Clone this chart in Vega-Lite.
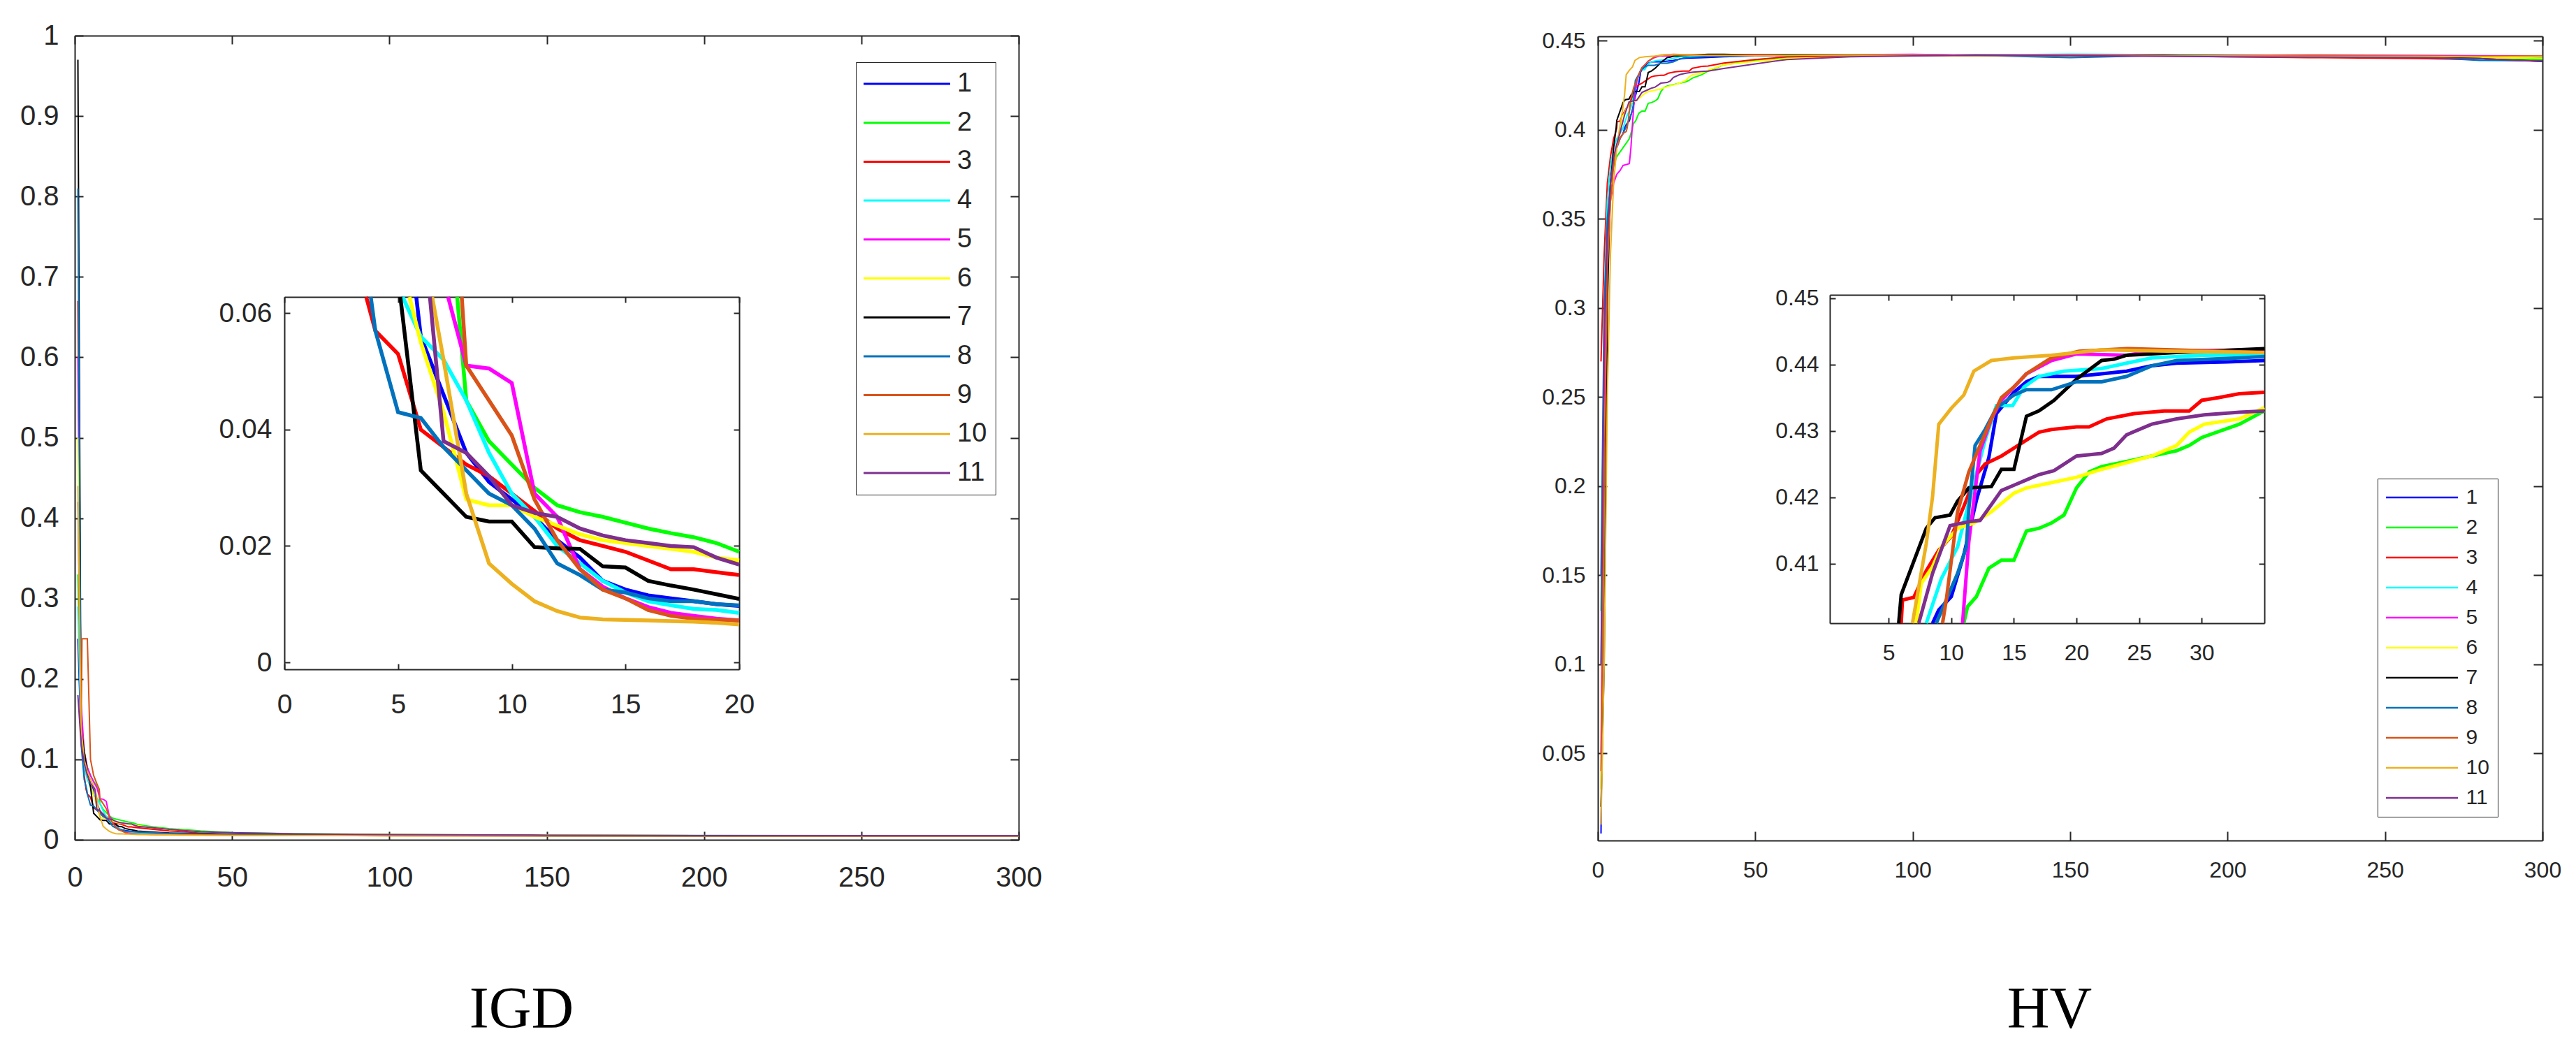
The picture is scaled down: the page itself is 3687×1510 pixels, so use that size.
{
"$schema": "https://vega.github.io/schema/vega-lite/v6.json",
"width": 3687, "height": 1510,
"autosize": {"type": "none"},
"padding": 0,
"background": "#ffffff",
"config": {
  "view": {"stroke": null},
  "axis": {"grid": false, "domainColor": "#262626", "domainWidth": 2, "tickColor": "#262626", "tickWidth": 2, "labelColor": "#262626", "labelFont": "Liberation Sans", "labelFlush": false, "labelOverlap": false, "labelBound": false}
},
"datasets": {
"igd": [
{"s":"1","x":1,"y":0.25},{"s":"1","x":2,"y":0.13},{"s":"1","x":3,"y":0.095},{"s":"1","x":4,"y":0.08},{"s":"1","x":5,"y":0.07},{"s":"1","x":5.8,"y":0.0628},{"s":"1","x":6,"y":0.056},{"s":"1","x":7,"y":0.046},{"s":"1","x":8,"y":0.036},{"s":"1","x":9,"y":0.031},{"s":"1","x":10,"y":0.028},{"s":"1","x":11,"y":0.025},{"s":"1","x":12,"y":0.021},{"s":"1","x":13,"y":0.018},{"s":"1","x":14,"y":0.014},{"s":"1","x":15,"y":0.0125},{"s":"1","x":16,"y":0.0115},{"s":"1","x":17,"y":0.011},{"s":"1","x":18,"y":0.0105},{"s":"1","x":19,"y":0.01},{"s":"1","x":20,"y":0.0097},{"s":"1","x":25,"y":0.0085},{"s":"1","x":30,"y":0.008},{"s":"1","x":40,"y":0.007},{"s":"1","x":50,"y":0.0065},{"s":"1","x":70,"y":0.006},{"s":"1","x":100,"y":0.0055},{"s":"1","x":150,"y":0.005},{"s":"1","x":200,"y":0.005},{"s":"1","x":250,"y":0.0048},{"s":"1","x":300,"y":0.0047},
{"s":"2","x":1,"y":0.33},{"s":"2","x":2,"y":0.15},{"s":"2","x":3,"y":0.11},{"s":"2","x":4,"y":0.09},{"s":"2","x":5,"y":0.08},{"s":"2","x":6,"y":0.073},{"s":"2","x":7,"y":0.067},{"s":"2","x":7.6,"y":0.0628},{"s":"2","x":8,"y":0.045},{"s":"2","x":9,"y":0.038},{"s":"2","x":10,"y":0.034},{"s":"2","x":11,"y":0.03},{"s":"2","x":12,"y":0.027},{"s":"2","x":13,"y":0.0258},{"s":"2","x":14,"y":0.025},{"s":"2","x":15,"y":0.024},{"s":"2","x":16,"y":0.023},{"s":"2","x":17,"y":0.0222},{"s":"2","x":18,"y":0.0215},{"s":"2","x":19,"y":0.0205},{"s":"2","x":20,"y":0.019},{"s":"2","x":25,"y":0.016},{"s":"2","x":30,"y":0.014},{"s":"2","x":40,"y":0.011},{"s":"2","x":50,"y":0.009},{"s":"2","x":70,"y":0.0075},{"s":"2","x":100,"y":0.0065},{"s":"2","x":150,"y":0.0058},{"s":"2","x":200,"y":0.0054},{"s":"2","x":250,"y":0.0052},{"s":"2","x":300,"y":0.005},
{"s":"3","x":1,"y":0.67},{"s":"3","x":2,"y":0.16},{"s":"3","x":3,"y":0.08},{"s":"3","x":3.6,"y":0.0628},{"s":"3","x":4,"y":0.057},{"s":"3","x":5,"y":0.053},{"s":"3","x":6,"y":0.04},{"s":"3","x":7,"y":0.037},{"s":"3","x":8,"y":0.034},{"s":"3","x":9,"y":0.032},{"s":"3","x":10,"y":0.029},{"s":"3","x":11,"y":0.026},{"s":"3","x":12,"y":0.023},{"s":"3","x":13,"y":0.021},{"s":"3","x":14,"y":0.02},{"s":"3","x":15,"y":0.019},{"s":"3","x":16,"y":0.0175},{"s":"3","x":17,"y":0.016},{"s":"3","x":18,"y":0.016},{"s":"3","x":19,"y":0.0155},{"s":"3","x":20,"y":0.015},{"s":"3","x":25,"y":0.013},{"s":"3","x":30,"y":0.011},{"s":"3","x":40,"y":0.009},{"s":"3","x":50,"y":0.008},{"s":"3","x":70,"y":0.007},{"s":"3","x":100,"y":0.006},{"s":"3","x":150,"y":0.0055},{"s":"3","x":200,"y":0.0052},{"s":"3","x":250,"y":0.005},{"s":"3","x":300,"y":0.0049},
{"s":"4","x":1,"y":0.29},{"s":"4","x":2,"y":0.13},{"s":"4","x":3,"y":0.09},{"s":"4","x":4,"y":0.075},{"s":"4","x":5,"y":0.066},{"s":"4","x":5.2,"y":0.0628},{"s":"4","x":6,"y":0.056},{"s":"4","x":7,"y":0.052},{"s":"4","x":8,"y":0.045},{"s":"4","x":9,"y":0.036},{"s":"4","x":10,"y":0.029},{"s":"4","x":11,"y":0.025},{"s":"4","x":12,"y":0.02},{"s":"4","x":13,"y":0.017},{"s":"4","x":14,"y":0.014},{"s":"4","x":15,"y":0.012},{"s":"4","x":16,"y":0.0105},{"s":"4","x":17,"y":0.0098},{"s":"4","x":18,"y":0.0092},{"s":"4","x":19,"y":0.009},{"s":"4","x":20,"y":0.0085},{"s":"4","x":25,"y":0.008},{"s":"4","x":30,"y":0.0075},{"s":"4","x":40,"y":0.007},{"s":"4","x":50,"y":0.0065},{"s":"4","x":70,"y":0.006},{"s":"4","x":100,"y":0.0055},{"s":"4","x":150,"y":0.005},{"s":"4","x":200,"y":0.0048},{"s":"4","x":250,"y":0.0047},{"s":"4","x":300,"y":0.0046},
{"s":"5","x":1,"y":0.6},{"s":"5","x":2,"y":0.17},{"s":"5","x":3,"y":0.11},{"s":"5","x":4,"y":0.09},{"s":"5","x":5,"y":0.08},{"s":"5","x":6,"y":0.072},{"s":"5","x":7,"y":0.065},{"s":"5","x":7.2,"y":0.0628},{"s":"5","x":8,"y":0.051},{"s":"5","x":9,"y":0.0505},{"s":"5","x":10,"y":0.048},{"s":"5","x":11,"y":0.029},{"s":"5","x":12,"y":0.025},{"s":"5","x":13,"y":0.016},{"s":"5","x":14,"y":0.013},{"s":"5","x":15,"y":0.011},{"s":"5","x":16,"y":0.0095},{"s":"5","x":17,"y":0.0085},{"s":"5","x":18,"y":0.008},{"s":"5","x":19,"y":0.0075},{"s":"5","x":20,"y":0.0072},{"s":"5","x":25,"y":0.0068},{"s":"5","x":30,"y":0.0065},{"s":"5","x":40,"y":0.006},{"s":"5","x":50,"y":0.0058},{"s":"5","x":70,"y":0.0055},{"s":"5","x":100,"y":0.0052},{"s":"5","x":150,"y":0.005},{"s":"5","x":200,"y":0.0048},{"s":"5","x":250,"y":0.0047},{"s":"5","x":300,"y":0.0046},
{"s":"6","x":1,"y":0.5},{"s":"6","x":2,"y":0.14},{"s":"6","x":3,"y":0.1},{"s":"6","x":4,"y":0.08},{"s":"6","x":5,"y":0.068},{"s":"6","x":5.5,"y":0.0628},{"s":"6","x":6,"y":0.055},{"s":"6","x":7,"y":0.043},{"s":"6","x":8,"y":0.028},{"s":"6","x":9,"y":0.027},{"s":"6","x":10,"y":0.027},{"s":"6","x":11,"y":0.025},{"s":"6","x":12,"y":0.0235},{"s":"6","x":13,"y":0.022},{"s":"6","x":14,"y":0.021},{"s":"6","x":15,"y":0.0205},{"s":"6","x":16,"y":0.02},{"s":"6","x":17,"y":0.0195},{"s":"6","x":18,"y":0.019},{"s":"6","x":19,"y":0.018},{"s":"6","x":20,"y":0.0175},{"s":"6","x":25,"y":0.015},{"s":"6","x":30,"y":0.013},{"s":"6","x":40,"y":0.01},{"s":"6","x":50,"y":0.0085},{"s":"6","x":70,"y":0.007},{"s":"6","x":100,"y":0.0062},{"s":"6","x":150,"y":0.0056},{"s":"6","x":200,"y":0.0053},{"s":"6","x":250,"y":0.0051},{"s":"6","x":300,"y":0.005},
{"s":"7","x":1,"y":0.97},{"s":"7","x":2,"y":0.14},{"s":"7","x":3,"y":0.11},{"s":"7","x":4,"y":0.085},{"s":"7","x":5,"y":0.066},{"s":"7","x":5.1,"y":0.0628},{"s":"7","x":6,"y":0.033},{"s":"7","x":7,"y":0.029},{"s":"7","x":8,"y":0.025},{"s":"7","x":9,"y":0.0242},{"s":"7","x":10,"y":0.0242},{"s":"7","x":11,"y":0.0198},{"s":"7","x":12,"y":0.0196},{"s":"7","x":13,"y":0.0195},{"s":"7","x":14,"y":0.0165},{"s":"7","x":15,"y":0.0163},{"s":"7","x":16,"y":0.014},{"s":"7","x":17,"y":0.0132},{"s":"7","x":18,"y":0.0125},{"s":"7","x":19,"y":0.0117},{"s":"7","x":20,"y":0.0109},{"s":"7","x":25,"y":0.0095},{"s":"7","x":30,"y":0.0085},{"s":"7","x":40,"y":0.0075},{"s":"7","x":50,"y":0.007},{"s":"7","x":70,"y":0.0063},{"s":"7","x":100,"y":0.0058},{"s":"7","x":150,"y":0.0053},{"s":"7","x":200,"y":0.005},{"s":"7","x":250,"y":0.0049},{"s":"7","x":300,"y":0.0048},
{"s":"8","x":1,"y":0.81},{"s":"8","x":2,"y":0.12},{"s":"8","x":3,"y":0.075},{"s":"8","x":3.8,"y":0.0628},{"s":"8","x":4,"y":0.057},{"s":"8","x":5,"y":0.043},{"s":"8","x":6,"y":0.042},{"s":"8","x":7,"y":0.037},{"s":"8","x":8,"y":0.033},{"s":"8","x":9,"y":0.029},{"s":"8","x":10,"y":0.027},{"s":"8","x":11,"y":0.023},{"s":"8","x":12,"y":0.017},{"s":"8","x":13,"y":0.015},{"s":"8","x":14,"y":0.0125},{"s":"8","x":15,"y":0.012},{"s":"8","x":16,"y":0.011},{"s":"8","x":17,"y":0.0105},{"s":"8","x":18,"y":0.0105},{"s":"8","x":19,"y":0.01},{"s":"8","x":20,"y":0.0098},{"s":"8","x":25,"y":0.0088},{"s":"8","x":30,"y":0.008},{"s":"8","x":40,"y":0.0072},{"s":"8","x":50,"y":0.0067},{"s":"8","x":70,"y":0.0062},{"s":"8","x":100,"y":0.0056},{"s":"8","x":150,"y":0.0051},{"s":"8","x":200,"y":0.0049},{"s":"8","x":250,"y":0.0048},{"s":"8","x":300,"y":0.0047},
{"s":"9","x":1,"y":0.42},{"s":"9","x":2,"y":0.13},{"s":"9","x":2.3,"y":0.25},{"s":"9","x":4,"y":0.25},{"s":"9","x":5,"y":0.1},{"s":"9","x":6,"y":0.08},{"s":"9","x":7,"y":0.07},{"s":"9","x":7.8,"y":0.0628},{"s":"9","x":8,"y":0.051},{"s":"9","x":9,"y":0.045},{"s":"9","x":10,"y":0.039},{"s":"9","x":11,"y":0.028},{"s":"9","x":12,"y":0.021},{"s":"9","x":13,"y":0.016},{"s":"9","x":14,"y":0.0125},{"s":"9","x":15,"y":0.011},{"s":"9","x":16,"y":0.009},{"s":"9","x":17,"y":0.008},{"s":"9","x":18,"y":0.0075},{"s":"9","x":19,"y":0.0073},{"s":"9","x":20,"y":0.0072},{"s":"9","x":25,"y":0.0068},{"s":"9","x":30,"y":0.0065},{"s":"9","x":40,"y":0.006},{"s":"9","x":50,"y":0.0057},{"s":"9","x":70,"y":0.0054},{"s":"9","x":100,"y":0.0051},{"s":"9","x":150,"y":0.0049},{"s":"9","x":200,"y":0.0047},{"s":"9","x":250,"y":0.0046},{"s":"9","x":300,"y":0.0045},
{"s":"10","x":1,"y":0.44},{"s":"10","x":2,"y":0.14},{"s":"10","x":3,"y":0.1},{"s":"10","x":4,"y":0.085},{"s":"10","x":5,"y":0.075},{"s":"10","x":6,"y":0.067},{"s":"10","x":6.5,"y":0.0628},{"s":"10","x":7,"y":0.052},{"s":"10","x":8,"y":0.029},{"s":"10","x":9,"y":0.017},{"s":"10","x":10,"y":0.0135},{"s":"10","x":11,"y":0.0105},{"s":"10","x":12,"y":0.0088},{"s":"10","x":13,"y":0.0077},{"s":"10","x":14,"y":0.0074},{"s":"10","x":15,"y":0.0073},{"s":"10","x":16,"y":0.0072},{"s":"10","x":17,"y":0.0071},{"s":"10","x":18,"y":0.007},{"s":"10","x":19,"y":0.0068},{"s":"10","x":20,"y":0.0065},{"s":"10","x":25,"y":0.0062},{"s":"10","x":30,"y":0.006},{"s":"10","x":40,"y":0.0057},{"s":"10","x":50,"y":0.0055},{"s":"10","x":70,"y":0.0053},{"s":"10","x":100,"y":0.005},{"s":"10","x":150,"y":0.0048},{"s":"10","x":200,"y":0.0047},{"s":"10","x":250,"y":0.0046},{"s":"10","x":300,"y":0.0045},
{"s":"11","x":1,"y":0.18},{"s":"11","x":2,"y":0.12},{"s":"11","x":3,"y":0.095},{"s":"11","x":4,"y":0.08},{"s":"11","x":5,"y":0.07},{"s":"11","x":6,"y":0.065},{"s":"11","x":6.4,"y":0.0628},{"s":"11","x":7,"y":0.038},{"s":"11","x":8,"y":0.036},{"s":"11","x":9,"y":0.032},{"s":"11","x":10,"y":0.027},{"s":"11","x":11,"y":0.0257},{"s":"11","x":12,"y":0.025},{"s":"11","x":13,"y":0.023},{"s":"11","x":14,"y":0.0218},{"s":"11","x":15,"y":0.021},{"s":"11","x":16,"y":0.0205},{"s":"11","x":17,"y":0.02},{"s":"11","x":18,"y":0.0198},{"s":"11","x":19,"y":0.018},{"s":"11","x":20,"y":0.0168},{"s":"11","x":25,"y":0.015},{"s":"11","x":30,"y":0.013},{"s":"11","x":40,"y":0.01},{"s":"11","x":50,"y":0.0088},{"s":"11","x":70,"y":0.0074},{"s":"11","x":100,"y":0.0065},{"s":"11","x":150,"y":0.0057},{"s":"11","x":200,"y":0.0053},{"s":"11","x":250,"y":0.0051},{"s":"11","x":300,"y":0.005}
],
"hv": [
{"s":"1","x":1,"y":0.005},{"s":"1","x":2,"y":0.2},{"s":"1","x":3,"y":0.33},{"s":"1","x":4,"y":0.37},{"s":"1","x":5,"y":0.385},{"s":"1","x":6,"y":0.39},{"s":"1","x":7,"y":0.395},{"s":"1","x":8,"y":0.398},{"s":"1","x":8.5,"y":0.401},{"s":"1","x":9,"y":0.403},{"s":"1","x":10,"y":0.405},{"s":"1","x":11,"y":0.4113},{"s":"1","x":12,"y":0.4195},{"s":"1","x":13,"y":0.426},{"s":"1","x":13.6,"y":0.4326},{"s":"1","x":15,"y":0.4358},{"s":"1","x":16,"y":0.4374},{"s":"1","x":17,"y":0.4382},{"s":"1","x":20,"y":0.4382},{"s":"1","x":22,"y":0.4386},{"s":"1","x":24,"y":0.439},{"s":"1","x":26,"y":0.4398},{"s":"1","x":28,"y":0.4402},{"s":"1","x":32,"y":0.4404},{"s":"1","x":35,"y":0.4406},{"s":"1","x":40,"y":0.441},{"s":"1","x":50,"y":0.4415},{"s":"1","x":60,"y":0.4418},{"s":"1","x":80,"y":0.442},{"s":"1","x":100,"y":0.4422},{"s":"1","x":120,"y":0.4418},{"s":"1","x":150,"y":0.442},{"s":"1","x":180,"y":0.4417},{"s":"1","x":200,"y":0.4415},{"s":"1","x":230,"y":0.4413},{"s":"1","x":260,"y":0.441},{"s":"1","x":280,"y":0.4408},{"s":"1","x":300,"y":0.4405},
{"s":"2","x":1,"y":0.13},{"s":"2","x":2,"y":0.28},{"s":"2","x":3,"y":0.34},{"s":"2","x":4,"y":0.37},{"s":"2","x":5,"y":0.38},{"s":"2","x":6,"y":0.385},{"s":"2","x":8,"y":0.39},{"s":"2","x":10,"y":0.395},{"s":"2","x":11,"y":0.401},{"s":"2","x":11.3,"y":0.4035},{"s":"2","x":12,"y":0.405},{"s":"2","x":13,"y":0.4093},{"s":"2","x":14,"y":0.4105},{"s":"2","x":15,"y":0.4105},{"s":"2","x":16,"y":0.4149},{"s":"2","x":17,"y":0.4153},{"s":"2","x":18,"y":0.4161},{"s":"2","x":19,"y":0.4173},{"s":"2","x":20,"y":0.4214},{"s":"2","x":21,"y":0.4238},{"s":"2","x":22,"y":0.4246},{"s":"2","x":24,"y":0.4254},{"s":"2","x":26,"y":0.4262},{"s":"2","x":28,"y":0.427},{"s":"2","x":29,"y":0.4278},{"s":"2","x":30,"y":0.429},{"s":"2","x":33,"y":0.431},{"s":"2","x":35,"y":0.433},{"s":"2","x":40,"y":0.4365},{"s":"2","x":50,"y":0.439},{"s":"2","x":60,"y":0.4405},{"s":"2","x":80,"y":0.4412},{"s":"2","x":100,"y":0.4418},{"s":"2","x":120,"y":0.442},{"s":"2","x":150,"y":0.4418},{"s":"2","x":180,"y":0.4415},{"s":"2","x":200,"y":0.4412},{"s":"2","x":230,"y":0.441},{"s":"2","x":260,"y":0.4405},{"s":"2","x":280,"y":0.44},{"s":"2","x":300,"y":0.4395},
{"s":"3","x":1,"y":0.27},{"s":"3","x":2,"y":0.33},{"s":"3","x":3,"y":0.37},{"s":"3","x":4,"y":0.385},{"s":"3","x":5,"y":0.395},{"s":"3","x":6,"y":0.401},{"s":"3","x":6.1,"y":0.4045},{"s":"3","x":7,"y":0.4049},{"s":"3","x":8,"y":0.4089},{"s":"3","x":9,"y":0.412},{"s":"3","x":10,"y":0.4141},{"s":"3","x":11,"y":0.4186},{"s":"3","x":12,"y":0.4234},{"s":"3","x":12.7,"y":0.425},{"s":"3","x":14,"y":0.4262},{"s":"3","x":15,"y":0.4274},{"s":"3","x":16,"y":0.4286},{"s":"3","x":17,"y":0.4298},{"s":"3","x":18,"y":0.4302},{"s":"3","x":20,"y":0.4306},{"s":"3","x":21,"y":0.4306},{"s":"3","x":22.4,"y":0.4318},{"s":"3","x":24.6,"y":0.4326},{"s":"3","x":27,"y":0.433},{"s":"3","x":29,"y":0.433},{"s":"3","x":30,"y":0.4346},{"s":"3","x":31.3,"y":0.435},{"s":"3","x":33,"y":0.4356},{"s":"3","x":35,"y":0.4358},{"s":"3","x":40,"y":0.4375},{"s":"3","x":50,"y":0.4395},{"s":"3","x":60,"y":0.441},{"s":"3","x":80,"y":0.4415},{"s":"3","x":100,"y":0.442},{"s":"3","x":120,"y":0.4418},{"s":"3","x":150,"y":0.4416},{"s":"3","x":180,"y":0.4414},{"s":"3","x":200,"y":0.441},{"s":"3","x":230,"y":0.4405},{"s":"3","x":260,"y":0.44},{"s":"3","x":280,"y":0.4395},{"s":"3","x":300,"y":0.4385},
{"s":"4","x":1,"y":0.1},{"s":"4","x":2,"y":0.3},{"s":"4","x":3,"y":0.36},{"s":"4","x":4,"y":0.38},{"s":"4","x":5,"y":0.39},{"s":"4","x":6,"y":0.395},{"s":"4","x":7,"y":0.398},{"s":"4","x":8,"y":0.401},{"s":"4","x":9.2,"y":0.4077},{"s":"4","x":10.5,"y":0.4125},{"s":"4","x":11.6,"y":0.4206},{"s":"4","x":12.7,"y":0.4286},{"s":"4","x":13.6,"y":0.4338},{"s":"4","x":14.9,"y":0.4338},{"s":"4","x":15.8,"y":0.4366},{"s":"4","x":17,"y":0.4382},{"s":"4","x":19,"y":0.439},{"s":"4","x":22,"y":0.4394},{"s":"4","x":24,"y":0.4402},{"s":"4","x":26,"y":0.441},{"s":"4","x":30,"y":0.4414},{"s":"4","x":35,"y":0.4415},{"s":"4","x":40,"y":0.4418},{"s":"4","x":50,"y":0.442},{"s":"4","x":60,"y":0.4422},{"s":"4","x":80,"y":0.442},{"s":"4","x":100,"y":0.4418},{"s":"4","x":120,"y":0.442},{"s":"4","x":150,"y":0.4425},{"s":"4","x":180,"y":0.4422},{"s":"4","x":200,"y":0.442},{"s":"4","x":230,"y":0.4418},{"s":"4","x":260,"y":0.4414},{"s":"4","x":280,"y":0.4395},{"s":"4","x":300,"y":0.441},
{"s":"5","x":1,"y":0.05},{"s":"5","x":2,"y":0.25},{"s":"5","x":3,"y":0.33},{"s":"5","x":4,"y":0.36},{"s":"5","x":5,"y":0.37},{"s":"5","x":6,"y":0.375},{"s":"5","x":7,"y":0.377},{"s":"5","x":8,"y":0.38},{"s":"5","x":10,"y":0.381},{"s":"5","x":10.5,"y":0.39},{"s":"5","x":10.9,"y":0.401},{"s":"5","x":11.4,"y":0.4133},{"s":"5","x":12.3,"y":0.427},{"s":"5","x":13.2,"y":0.4318},{"s":"5","x":14,"y":0.4346},{"s":"5","x":15,"y":0.4366},{"s":"5","x":16,"y":0.4386},{"s":"5","x":18,"y":0.4406},{"s":"5","x":20,"y":0.4416},{"s":"5","x":24,"y":0.4414},{"s":"5","x":26,"y":0.442},{"s":"5","x":35,"y":0.4422},{"s":"5","x":40,"y":0.4422},{"s":"5","x":50,"y":0.4423},{"s":"5","x":60,"y":0.442},{"s":"5","x":80,"y":0.4422},{"s":"5","x":100,"y":0.4424},{"s":"5","x":120,"y":0.442},{"s":"5","x":150,"y":0.4422},{"s":"5","x":180,"y":0.442},{"s":"5","x":200,"y":0.4418},{"s":"5","x":230,"y":0.442},{"s":"5","x":260,"y":0.4418},{"s":"5","x":280,"y":0.4416},{"s":"5","x":300,"y":0.4415},
{"s":"6","x":1,"y":0.03},{"s":"6","x":2,"y":0.2},{"s":"6","x":3,"y":0.32},{"s":"6","x":4,"y":0.36},{"s":"6","x":5,"y":0.38},{"s":"6","x":6,"y":0.39},{"s":"6","x":7,"y":0.398},{"s":"6","x":7.2,"y":0.401},{"s":"6","x":7.6,"y":0.407},{"s":"6","x":8.5,"y":0.4095},{"s":"6","x":9.2,"y":0.4125},{"s":"6","x":10.5,"y":0.4153},{"s":"6","x":11.8,"y":0.4161},{"s":"6","x":13.2,"y":0.4178},{"s":"6","x":15,"y":0.4206},{"s":"6","x":16,"y":0.4214},{"s":"6","x":18,"y":0.4222},{"s":"6","x":20,"y":0.423},{"s":"6","x":22,"y":0.4242},{"s":"6","x":24,"y":0.4252},{"s":"6","x":26,"y":0.4262},{"s":"6","x":28,"y":0.4278},{"s":"6","x":29,"y":0.4298},{"s":"6","x":30.2,"y":0.431},{"s":"6","x":33,"y":0.4318},{"s":"6","x":35,"y":0.4335},{"s":"6","x":40,"y":0.4365},{"s":"6","x":50,"y":0.4385},{"s":"6","x":60,"y":0.44},{"s":"6","x":80,"y":0.441},{"s":"6","x":100,"y":0.4415},{"s":"6","x":120,"y":0.4418},{"s":"6","x":150,"y":0.4416},{"s":"6","x":180,"y":0.4414},{"s":"6","x":200,"y":0.4412},{"s":"6","x":230,"y":0.441},{"s":"6","x":260,"y":0.4408},{"s":"6","x":280,"y":0.4405},{"s":"6","x":300,"y":0.4402},
{"s":"7","x":1,"y":0.02},{"s":"7","x":2,"y":0.1},{"s":"7","x":3,"y":0.3},{"s":"7","x":4,"y":0.37},{"s":"7","x":5,"y":0.39},{"s":"7","x":5.8,"y":0.401},{"s":"7","x":6,"y":0.4053},{"s":"7","x":8,"y":0.4153},{"s":"7","x":8.7,"y":0.4169},{"s":"7","x":9.9,"y":0.4173},{"s":"7","x":10.5,"y":0.4194},{"s":"7","x":11.4,"y":0.4214},{"s":"7","x":13.2,"y":0.4216},{"s":"7","x":14,"y":0.4242},{"s":"7","x":15,"y":0.4242},{"s":"7","x":16,"y":0.4322},{"s":"7","x":17,"y":0.433},{"s":"7","x":18.2,"y":0.4346},{"s":"7","x":20,"y":0.4378},{"s":"7","x":22,"y":0.4406},{"s":"7","x":23,"y":0.4408},{"s":"7","x":24,"y":0.4414},{"s":"7","x":28,"y":0.4418},{"s":"7","x":35,"y":0.4424},{"s":"7","x":40,"y":0.4424},{"s":"7","x":50,"y":0.442},{"s":"7","x":60,"y":0.4422},{"s":"7","x":80,"y":0.442},{"s":"7","x":100,"y":0.4418},{"s":"7","x":120,"y":0.442},{"s":"7","x":150,"y":0.4418},{"s":"7","x":180,"y":0.442},{"s":"7","x":200,"y":0.4416},{"s":"7","x":230,"y":0.4414},{"s":"7","x":260,"y":0.441},{"s":"7","x":280,"y":0.44},{"s":"7","x":300,"y":0.4385},
{"s":"8","x":1,"y":0.15},{"s":"8","x":2,"y":0.3},{"s":"8","x":3,"y":0.35},{"s":"8","x":4,"y":0.37},{"s":"8","x":5,"y":0.38},{"s":"8","x":6,"y":0.39},{"s":"8","x":7,"y":0.395},{"s":"8","x":8,"y":0.398},{"s":"8","x":8.8,"y":0.401},{"s":"8","x":10.5,"y":0.4085},{"s":"8","x":11.2,"y":0.4125},{"s":"8","x":11.4,"y":0.4182},{"s":"8","x":11.9,"y":0.4278},{"s":"8","x":12.7,"y":0.4302},{"s":"8","x":13.6,"y":0.4334},{"s":"8","x":15,"y":0.4354},{"s":"8","x":16,"y":0.4362},{"s":"8","x":18,"y":0.4362},{"s":"8","x":20,"y":0.4374},{"s":"8","x":22,"y":0.4374},{"s":"8","x":24,"y":0.4382},{"s":"8","x":26,"y":0.4398},{"s":"8","x":28,"y":0.4406},{"s":"8","x":33,"y":0.441},{"s":"8","x":35,"y":0.4412},{"s":"8","x":40,"y":0.4413},{"s":"8","x":50,"y":0.4416},{"s":"8","x":60,"y":0.442},{"s":"8","x":80,"y":0.4418},{"s":"8","x":100,"y":0.442},{"s":"8","x":120,"y":0.4418},{"s":"8","x":150,"y":0.4405},{"s":"8","x":180,"y":0.4418},{"s":"8","x":200,"y":0.4415},{"s":"8","x":230,"y":0.4413},{"s":"8","x":260,"y":0.441},{"s":"8","x":280,"y":0.439},{"s":"8","x":300,"y":0.4388},
{"s":"9","x":1,"y":0.04},{"s":"9","x":2,"y":0.2},{"s":"9","x":3,"y":0.32},{"s":"9","x":4,"y":0.36},{"s":"9","x":5,"y":0.38},{"s":"9","x":6,"y":0.39},{"s":"9","x":7,"y":0.395},{"s":"9","x":8,"y":0.398},{"s":"9","x":9,"y":0.399},{"s":"9","x":9.3,"y":0.401},{"s":"9","x":9.6,"y":0.4045},{"s":"9","x":10.5,"y":0.4178},{"s":"9","x":11.4,"y":0.4238},{"s":"9","x":12.3,"y":0.4278},{"s":"9","x":13.2,"y":0.4318},{"s":"9","x":14,"y":0.435},{"s":"9","x":15,"y":0.4366},{"s":"9","x":16,"y":0.4386},{"s":"9","x":18,"y":0.441},{"s":"9","x":20.2,"y":0.442},{"s":"9","x":24,"y":0.4424},{"s":"9","x":35,"y":0.4418},{"s":"9","x":40,"y":0.4418},{"s":"9","x":50,"y":0.442},{"s":"9","x":60,"y":0.4418},{"s":"9","x":80,"y":0.4421},{"s":"9","x":100,"y":0.442},{"s":"9","x":120,"y":0.4418},{"s":"9","x":150,"y":0.442},{"s":"9","x":180,"y":0.4418},{"s":"9","x":200,"y":0.4416},{"s":"9","x":230,"y":0.4418},{"s":"9","x":260,"y":0.4415},{"s":"9","x":280,"y":0.4413},{"s":"9","x":300,"y":0.4415},
{"s":"10","x":1,"y":0.01},{"s":"10","x":2,"y":0.1},{"s":"10","x":3,"y":0.25},{"s":"10","x":4,"y":0.33},{"s":"10","x":5,"y":0.37},{"s":"10","x":6,"y":0.39},{"s":"10","x":6.9,"y":0.401},{"s":"10","x":8,"y":0.413},{"s":"10","x":8.5,"y":0.42},{"s":"10","x":9,"y":0.431},{"s":"10","x":10,"y":0.4334},{"s":"10","x":11,"y":0.4354},{"s":"10","x":11.8,"y":0.439},{"s":"10","x":13.2,"y":0.4406},{"s":"10","x":15,"y":0.441},{"s":"10","x":18,"y":0.4414},{"s":"10","x":22,"y":0.4422},{"s":"10","x":28,"y":0.442},{"s":"10","x":35,"y":0.4418},{"s":"10","x":40,"y":0.4418},{"s":"10","x":50,"y":0.4416},{"s":"10","x":60,"y":0.4418},{"s":"10","x":80,"y":0.442},{"s":"10","x":100,"y":0.4418},{"s":"10","x":120,"y":0.4416},{"s":"10","x":150,"y":0.4418},{"s":"10","x":180,"y":0.4415},{"s":"10","x":200,"y":0.4414},{"s":"10","x":230,"y":0.4412},{"s":"10","x":260,"y":0.4412},{"s":"10","x":280,"y":0.441},{"s":"10","x":300,"y":0.4412},
{"s":"11","x":1,"y":0.1},{"s":"11","x":2,"y":0.28},{"s":"11","x":3,"y":0.34},{"s":"11","x":4,"y":0.37},{"s":"11","x":5,"y":0.385},{"s":"11","x":6,"y":0.392},{"s":"11","x":7,"y":0.398},{"s":"11","x":7.4,"y":0.401},{"s":"11","x":8.5,"y":0.4085},{"s":"11","x":9.9,"y":0.4157},{"s":"11","x":11.4,"y":0.4163},{"s":"11","x":12.3,"y":0.4165},{"s":"11","x":14,"y":0.421},{"s":"11","x":15,"y":0.4218},{"s":"11","x":16,"y":0.4226},{"s":"11","x":17,"y":0.4234},{"s":"11","x":18.2,"y":0.424},{"s":"11","x":20,"y":0.4262},{"s":"11","x":22,"y":0.4266},{"s":"11","x":23,"y":0.4274},{"s":"11","x":24,"y":0.4294},{"s":"11","x":26,"y":0.431},{"s":"11","x":28,"y":0.4318},{"s":"11","x":30.2,"y":0.4324},{"s":"11","x":33,"y":0.4328},{"s":"11","x":35,"y":0.433},{"s":"11","x":40,"y":0.4345},{"s":"11","x":50,"y":0.437},{"s":"11","x":60,"y":0.4395},{"s":"11","x":80,"y":0.441},{"s":"11","x":100,"y":0.4415},{"s":"11","x":120,"y":0.4418},{"s":"11","x":150,"y":0.4416},{"s":"11","x":180,"y":0.4413},{"s":"11","x":200,"y":0.441},{"s":"11","x":230,"y":0.4408},{"s":"11","x":260,"y":0.4405},{"s":"11","x":280,"y":0.44},{"s":"11","x":300,"y":0.4385}
]
},
"layer": [
{
  "data": {"name": "igd"},
  "mark": {"type": "line", "strokeWidth": 2},
  "encoding": {
    "x": {"field": "x", "type": "quantitative",
      "scale": {"domain": [0, 300], "range": [107, 1458], "nice": false, "zero": false},
      "axis": {"orient": "bottom", "offset": -308, "values": [0, 50, 100, 150, 200, 250, 300], "tickSize": -12, "labelPadding": 46, "labelFontSize": 40, "format": "d",
        "title": "IGD", "titleFont": "Liberation Serif", "titleFontSize": 84, "titleFontWeight": "normal", "titleColor": "#000000", "titleX": 746, "titleY": 268, "titleBaseline": "alphabetic", "titleAlign": "center", "titleAngle": 0}},
    "y": {"field": "y", "type": "quantitative",
      "scale": {"domain": [0, 1], "range": [1202, 51], "nice": false, "zero": false},
      "axis": {"orient": "left", "offset": -107, "values": [0, 0.1, 0.2, 0.3, 0.4, 0.5, 0.6, 0.7, 0.8, 0.9, 1], "tickSize": -12, "labelPadding": 35, "labelFontSize": 40, "format": "~g", "title": null}},
    "color": {"field": "s", "type": "nominal",
      "scale": {"domain": ["1","2","3","4","5","6","7","8","9","10","11"], "range": ["#0000ff","#00ff00","#ff0000","#00ffff","#ff00ff","#ffff00","#000000","#0072bd","#d95319","#edb120","#7e2f8e"]},
      "legend": {"orient": "none", "legendX": 1225, "legendY": 89, "title": null, "symbolType": "M-4.13,0H4.13", "symbolSize": 900, "symbolStrokeWidth": 3, "symbolOffset": 42, "labelOffset": 53, "labelFontSize": 38, "labelFont": "Liberation Sans", "labelColor": "#262626", "rowPadding": 17.7, "padding": 12, "strokeColor": "#262626", "fillColor": "#ffffff"}}
  }
},
{
  "data": {"name": "igd"},
  "transform": [{"filter": "false"}],
  "mark": {"type": "point", "opacity": 0},
  "encoding": {
    "x": {"field": "x", "type": "quantitative",
      "scale": {"domain": [0, 300], "range": [107, 1458], "nice": false, "zero": false},
      "axis": {"orient": "top", "offset": -51, "values": [0, 50, 100, 150, 200, 250, 300], "tickSize": -12, "labels": false, "title": null}},
    "y": {"field": "y", "type": "quantitative",
      "scale": {"domain": [0, 1], "range": [1202, 51], "nice": false, "zero": false},
      "axis": {"orient": "right", "offset": -2229, "values": [0, 0.1, 0.2, 0.3, 0.4, 0.5, 0.6, 0.7, 0.8, 0.9, 1], "tickSize": -12, "labels": false, "title": null}}
  }
},
{
  "data": {"name": "igd"},
  "transform": [{"filter": "datum.x <= 20 && datum.y <= 0.0628"}],
  "mark": {"type": "line", "strokeWidth": 5.5},
  "encoding": {
    "x": {"field": "x", "type": "quantitative",
      "scale": {"domain": [0, 20], "range": [407, 1058], "nice": false, "zero": false},
      "axis": {"orient": "bottom", "offset": -552, "values": [0, 5, 10, 15, 20], "tickSize": -8, "labelPadding": 39, "labelFontSize": 39, "format": "d", "title": null}},
    "y": {"field": "y", "type": "quantitative",
      "scale": {"domain": [-0.0012, 0.0628], "range": [958, 425], "nice": false, "zero": false},
      "axis": {"orient": "left", "offset": -407, "values": [0, 0.02, 0.04, 0.06], "tickSize": -8, "labelPadding": 26, "labelFontSize": 39, "format": "~g", "title": null}},
    "color": {"field": "s", "type": "nominal",
      "scale": {"domain": ["1","2","3","4","5","6","7","8","9","10","11"], "range": ["#0000ff","#00ff00","#ff0000","#00ffff","#ff00ff","#ffff00","#000000","#0072bd","#d95319","#edb120","#7e2f8e"]},
      "legend": null}
  }
},
{
  "data": {"name": "igd"},
  "transform": [{"filter": "false"}],
  "mark": {"type": "point", "opacity": 0},
  "encoding": {
    "x": {"field": "x", "type": "quantitative",
      "scale": {"domain": [0, 20], "range": [407, 1058], "nice": false, "zero": false},
      "axis": {"orient": "top", "offset": -425, "values": [0, 5, 10, 15, 20], "tickSize": -8, "labels": false, "title": null}},
    "y": {"field": "y", "type": "quantitative",
      "scale": {"domain": [-0.0012, 0.0628], "range": [958, 425], "nice": false, "zero": false},
      "axis": {"orient": "right", "offset": -2629, "values": [0, 0.02, 0.04, 0.06], "tickSize": -8, "labels": false, "title": null}}
  }
},
{
  "data": {"name": "hv"},
  "mark": {"type": "line", "strokeWidth": 2},
  "encoding": {
    "x": {"field": "x", "type": "quantitative",
      "scale": {"domain": [0, 300], "range": [2287, 3639], "nice": false, "zero": false},
      "axis": {"orient": "bottom", "offset": -307, "values": [0, 50, 100, 150, 200, 250, 300], "tickSize": -13, "labelPadding": 40, "labelFontSize": 32, "format": "d",
        "title": "HV", "titleFont": "Liberation Serif", "titleFontSize": 84, "titleFontWeight": "normal", "titleColor": "#000000", "titleX": 2933, "titleY": 267, "titleBaseline": "alphabetic", "titleAlign": "center", "titleAngle": 0}},
    "y": {"field": "y", "type": "quantitative",
      "scale": {"domain": [0.0011, 0.4525], "range": [1203, 52], "nice": false, "zero": false},
      "axis": {"orient": "left", "offset": -2287, "values": [0.05, 0.1, 0.15, 0.2, 0.25, 0.3, 0.35, 0.4, 0.45], "tickSize": -13, "labelPadding": 31, "labelFontSize": 32, "format": "~g", "title": null}},
    "color": {"field": "s", "type": "nominal",
      "scale": {"domain": ["1","2","3","4","5","6","7","8","9","10","11"], "range": ["#0000ff","#00ff00","#ff0000","#00ffff","#ff00ff","#ffff00","#000000","#0072bd","#d95319","#edb120","#7e2f8e"]},
      "legend": {"orient": "none", "legendX": 3403, "legendY": 685, "title": null, "symbolType": "M-4.12,0H4.12", "symbolSize": 625, "symbolStrokeWidth": 2.5, "symbolOffset": 36.5, "labelOffset": 48, "labelFontSize": 30, "labelFont": "Liberation Sans", "labelColor": "#262626", "rowPadding": 13, "padding": 12, "strokeColor": "#262626", "fillColor": "#ffffff"}}
  }
},
{
  "data": {"name": "hv"},
  "transform": [{"filter": "false"}],
  "mark": {"type": "point", "opacity": 0},
  "encoding": {
    "x": {"field": "x", "type": "quantitative",
      "scale": {"domain": [0, 300], "range": [2287, 3639], "nice": false, "zero": false},
      "axis": {"orient": "top", "offset": -52, "values": [0, 50, 100, 150, 200, 250, 300], "tickSize": -13, "labels": false, "title": null}},
    "y": {"field": "y", "type": "quantitative",
      "scale": {"domain": [0.0011, 0.4525], "range": [1203, 52], "nice": false, "zero": false},
      "axis": {"orient": "right", "offset": -48, "values": [0.05, 0.1, 0.15, 0.2, 0.25, 0.3, 0.35, 0.4, 0.45], "tickSize": -13, "labels": false, "title": null}}
  }
},
{
  "data": {"name": "hv"},
  "transform": [{"filter": "datum.x <= 35 && datum.y >= 0.401"}],
  "mark": {"type": "line", "strokeWidth": 5},
  "encoding": {
    "x": {"field": "x", "type": "quantitative",
      "scale": {"domain": [0.3, 35], "range": [2619, 3241], "nice": false, "zero": false},
      "axis": {"orient": "bottom", "offset": -618, "values": [5, 10, 15, 20, 25, 30], "tickSize": -8, "labelPadding": 35, "labelFontSize": 32, "format": "d", "title": null}},
    "y": {"field": "y", "type": "quantitative",
      "scale": {"domain": [0.401, 0.4505], "range": [892, 422], "nice": false, "zero": false},
      "axis": {"orient": "left", "offset": -2619, "values": [0.41, 0.42, 0.43, 0.44, 0.45], "tickSize": -8, "labelPadding": 24, "labelFontSize": 32, "format": "~g", "title": null}},
    "color": {"field": "s", "type": "nominal",
      "scale": {"domain": ["1","2","3","4","5","6","7","8","9","10","11"], "range": ["#0000ff","#00ff00","#ff0000","#00ffff","#ff00ff","#ffff00","#000000","#0072bd","#d95319","#edb120","#7e2f8e"]},
      "legend": null}
  }
},
{
  "data": {"name": "hv"},
  "transform": [{"filter": "false"}],
  "mark": {"type": "point", "opacity": 0},
  "encoding": {
    "x": {"field": "x", "type": "quantitative",
      "scale": {"domain": [0.3, 35], "range": [2619, 3241], "nice": false, "zero": false},
      "axis": {"orient": "top", "offset": -422, "values": [5, 10, 15, 20, 25, 30], "tickSize": -8, "labels": false, "title": null}},
    "y": {"field": "y", "type": "quantitative",
      "scale": {"domain": [0.401, 0.4505], "range": [892, 422], "nice": false, "zero": false},
      "axis": {"orient": "right", "offset": -446, "values": [0.41, 0.42, 0.43, 0.44, 0.45], "tickSize": -8, "labels": false, "title": null}}
  }
}
],
"resolve": {"scale": {"x": "independent", "y": "independent", "color": "independent"}, "axis": {"x": "independent", "y": "independent"}, "legend": {"color": "independent"}}
}
